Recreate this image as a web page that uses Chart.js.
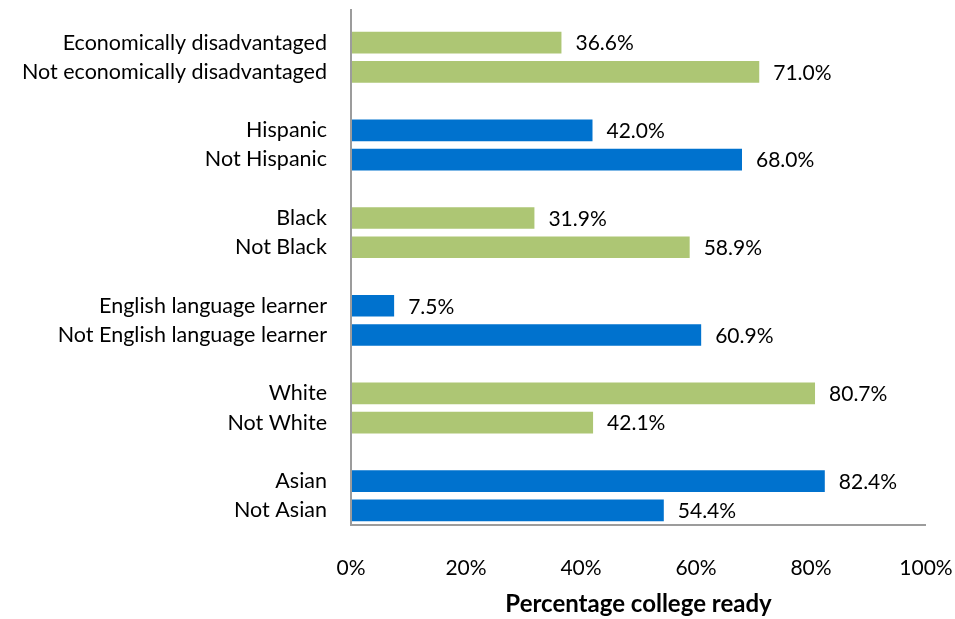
<!DOCTYPE html>
<html>
<head>
<meta charset="utf-8">
<script src="https://cdn.jsdelivr.net/npm/chart.js@4"></script>
<style>
  html, body { margin: 0; padding: 0; background: #fff; }
  #wrap { width: 955px; height: 619px; }
</style>
</head>
<body>
<div id="wrap"><canvas id="c" width="955" height="619"></canvas></div>
<script>
// Student groups, top to bottom; empty strings separate the pairs
const categories = [
  'Economically disadvantaged', 'Not economically disadvantaged', '',
  'Hispanic', 'Not Hispanic', '',
  'Black', 'Not Black', '',
  'English language learner', 'Not English language learner', '',
  'White', 'Not White', '',
  'Asian', 'Not Asian'
];
// Percentage college ready for each group
const collegeReady = [
  36.6, 71.0, null,
  42.0, 68.0, null,
  31.9, 58.9, null,
  7.5, 60.9, null,
  80.7, 42.1, null,
  82.4, 54.4
];
const xTicks = [0, 20, 40, 60, 80, 100];

const GREEN = '#ADC674';
const BLUE = '#0072CE';
// Pairs alternate green / blue
const barColors = categories.map((_, i) => (Math.floor(i / 3) % 2 === 0 ? GREEN : BLUE));

const FONT = 'Lato, "Open Sans", sans-serif';

const axisLines = {
  id: 'axisLines',
  afterDatasetsDraw(chart) {
    const { ctx, chartArea } = chart;
    ctx.save();
    ctx.strokeStyle = '#9c9c9c';
    ctx.lineWidth = 2;
    ctx.beginPath();
    ctx.moveTo(chartArea.left, 9);
    ctx.lineTo(chartArea.left, chartArea.bottom);
    ctx.lineTo(chartArea.right, chartArea.bottom);
    ctx.stroke();
    ctx.restore();
  }
};

const valueLabels = {
  id: 'valueLabels',
  afterDatasetsDraw(chart) {
    const { ctx } = chart;
    const meta = chart.getDatasetMeta(0);
    ctx.save();
    ctx.font = '21px ' + FONT;
    ctx.fillStyle = '#000';
    ctx.textAlign = 'left';
    ctx.textBaseline = 'middle';
    meta.data.forEach((bar, i) => {
      const v = collegeReady[i];
      if (v === null) return;
      ctx.fillText(v.toFixed(1) + '%', bar.x + 14, bar.y + 1);
    });
    ctx.restore();
  }
};

new Chart(document.getElementById('c'), {
  type: 'bar',
  data: {
    labels: categories,
    datasets: [{
      data: collegeReady,
      backgroundColor: barColors,
      borderWidth: 0,
      barPercentage: 0.74,
      categoryPercentage: 1.0
    }]
  },
  options: {
    indexAxis: 'y',
    responsive: false,
    animation: false,
    layout: { padding: { top: 28, right: 29, left: 0, bottom: 0 } },
    plugins: {
      legend: { display: false },
      tooltip: { enabled: false }
    },
    scales: {
      x: {
        min: 0,
        max: 100,
        afterBuildTicks(scale) {
          scale.ticks = xTicks.map(v => ({ value: v }));
        },
        grid: { display: false, drawTicks: false },
        border: { display: false },
        ticks: {
          padding: 31,
          color: '#000',
          font: { family: FONT, size: 21 },
          callback: v => v + '%'
        },
        title: {
          display: true,
          text: 'Percentage college ready',
          color: '#000',
          font: { family: FONT, size: 24, weight: 'bold' },
          padding: { top: 8, bottom: 0 }
        },
        afterFit(scale) {
          scale.height = 94;
          scale.paddingLeft = 0;
          scale.paddingRight = 0;
        }
      },
      y: {
        grid: { display: false, drawTicks: false },
        border: { display: false },
        ticks: {
          padding: 24,
          color: '#000',
          autoSkip: false,
          font: { family: FONT, size: 21.5 }
        },
        afterFit(scale) {
          scale.width = 351;
          scale.paddingTop = 0;
          scale.paddingBottom = 0;
        }
      }
    }
  },
  plugins: [axisLines, valueLabels]
});
</script>
</body>
</html>
